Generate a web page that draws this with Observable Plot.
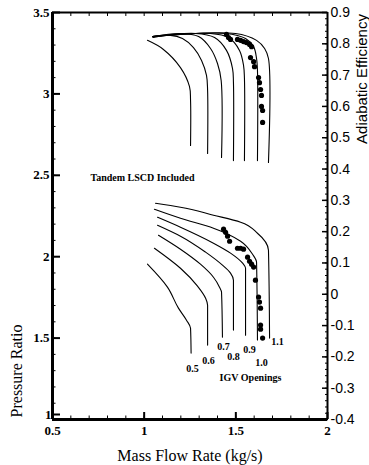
<!DOCTYPE html>
<html>
<head>
<meta charset="utf-8">
<script src="https://cdn.jsdelivr.net/npm/d3@7"></script>
<script src="https://cdn.jsdelivr.net/npm/@observablehq/plot@0.6"></script>
<style>
  html, body { margin: 0; padding: 0; background: #fff; }
</style>
</head>
<body>
<div id="chart"></div>
<script>
// IGV openings of the simulated speed lines
const igvOpenings = [0.5, 0.6, 0.7, 0.8, 0.9, 1.0, 1.1];

// Pressure ratio characteristics: [mass flow (kg/s), pressure ratio]
const pr05 = [[1.018, 1.954], [1.127, 1.813], [1.187, 1.684], [1.231, 1.610], [1.253, 1.561], [1.256, 1.408]];
const pr06 = [[1.056, 2.052], [1.198, 1.929], [1.291, 1.819], [1.335, 1.745], [1.346, 1.702], [1.346, 1.457]];
const pr07 = [[1.078, 2.132], [1.198, 2.046], [1.307, 1.954], [1.378, 1.874], [1.411, 1.813], [1.422, 1.782], [1.427, 1.506]];
const pr08 = [[1.073, 2.193], [1.198, 2.126], [1.335, 2.028], [1.427, 1.948], [1.471, 1.899], [1.487, 1.856], [1.487, 1.549]];
const pr09 = [[1.073, 2.242], [1.198, 2.181], [1.378, 2.083], [1.471, 2.022], [1.537, 1.960], [1.553, 1.929], [1.553, 1.518]];
const pr10 = [[1.056, 2.291], [1.198, 2.236], [1.378, 2.175], [1.526, 2.095], [1.591, 2.015], [1.613, 1.966], [1.618, 1.488]];
const pr11 = [[1.062, 2.328], [1.198, 2.304], [1.378, 2.255], [1.526, 2.212], [1.618, 2.144], [1.678, 2.040], [1.684, 1.500]];

// Adiabatic efficiency characteristics: [mass flow (kg/s), efficiency]
const eff05 = [[1.018, 0.811], [1.105, 0.782], [1.198, 0.724], [1.247, 0.664], [1.253, 0.619], [1.253, 0.475]];
const eff06 = [[1.051, 0.820], [1.144, 0.827], [1.209, 0.817], [1.269, 0.788], [1.313, 0.747], [1.340, 0.699], [1.346, 0.651], [1.346, 0.450]];
const eff07 = [[1.046, 0.823], [1.198, 0.833], [1.297, 0.823], [1.362, 0.785], [1.400, 0.737], [1.420, 0.683], [1.422, 0.437]];
const eff08 = [[1.046, 0.823], [1.280, 0.833], [1.384, 0.820], [1.449, 0.779], [1.482, 0.721], [1.487, 0.676], [1.487, 0.427]];
const eff09 = [[1.046, 0.823], [1.362, 0.833], [1.460, 0.820], [1.520, 0.779], [1.542, 0.731], [1.547, 0.689], [1.547, 0.427]];
const eff10 = [[1.046, 0.823], [1.444, 0.833], [1.553, 0.817], [1.597, 0.791], [1.613, 0.753], [1.618, 0.715], [1.618, 0.427]];
const eff11 = [[1.046, 0.823], [1.498, 0.833], [1.613, 0.811], [1.657, 0.785], [1.678, 0.753], [1.678, 0.421]];

// Measured points (tandem LSCD included)
const measuredPrFlow = [1.433, 1.444, 1.455, 1.466, 1.509, 1.526, 1.542, 1.564, 1.575, 1.586, 1.597, 1.607, 1.624, 1.629, 1.635, 1.635, 1.635, 1.646];
const measuredPr     = [2.169, 2.150, 2.126, 2.095, 2.052, 2.052, 2.046, 1.997, 1.972, 1.954, 1.936, 1.856, 1.752, 1.721, 1.684, 1.580, 1.555, 1.500];
const measuredEffFlow = [1.449, 1.460, 1.471, 1.509, 1.526, 1.542, 1.558, 1.575, 1.586, 1.580, 1.597, 1.602, 1.624, 1.629, 1.635, 1.640, 1.640, 1.646, 1.646];
const measuredEff     = [0.830, 0.820, 0.814, 0.814, 0.811, 0.807, 0.804, 0.798, 0.791, 0.756, 0.743, 0.727, 0.692, 0.676, 0.654, 0.635, 0.600, 0.587, 0.549];

// Opening labels placed under the choke ends of the pressure lines
const openingLabelFlow = [1.264, 1.351, 1.433, 1.487, 1.575, 1.640, 1.727];
const openingLabelPr   = [1.310, 1.359, 1.445, 1.383, 1.426, 1.347, 1.476];
const openingLabelText = ["0.5", "0.6", "0.7", "0.8", "0.9", "1.0", "1.1"];

// Axes
const flowDomain = [0.5, 2];
const prDomain = [1, 3.5];
const effDomain = [-0.4, 0.9];
const flowTicks = [0.5, 1, 1.5, 2];
const prTicks = [1, 1.5, 2, 2.5, 3, 3.5];
const effTicks = [-0.4, -0.3, -0.2, -0.1, 0, 0.1, 0.2, 0.3, 0.4, 0.5, 0.6, 0.7, 0.8, 0.9];

// Efficiency shares the plot area with pressure ratio (right-hand axis)
const effToPr = e => prDomain[0] + (e - effDomain[0]) * (prDomain[1] - prDomain[0]) / (effDomain[1] - effDomain[0]);
const prToEff = p => effDomain[0] + (p - prDomain[0]) * (effDomain[1] - effDomain[0]) / (prDomain[1] - prDomain[0]);

const prCurves = [pr05, pr06, pr07, pr08, pr09, pr10, pr11];
const effCurves = [eff05, eff06, eff07, eff08, eff09, eff10, eff11];

const serif = "'Liberation Serif', 'Times New Roman', serif";
const sans = "'Liberation Sans', Arial, sans-serif";

const minorFlow = d3.range(5, 21).map(d => d / 10);
const minorPr = d3.range(10, 36).map(d => d / 10);
const minorEff = d3.range(-20, 46).map(d => d / 50);

const effFormat = p => {
  const e = Math.round(prToEff(p) * 10) / 10;
  return e === 0 ? "0" : e.toFixed(1);
};

const chart = Plot.plot({
  width: 369,
  height: 465,
  marginLeft: 52,
  marginRight: 42,
  marginTop: 12,
  marginBottom: 46,
  x: {domain: flowDomain},
  y: {domain: prDomain},
  style: {fontFamily: serif, fontSize: "13px", color: "black", background: "white", overflow: "visible"},
  marks: [
    // left axis: pressure ratio (the lowest label sits tight in the corner)
    Plot.axisY(minorPr, {anchor: "left", tickSize: -3.5, tickFormat: () => "", label: null}),
    Plot.axisY(prTicks.slice(1), {anchor: "left", tickSize: -8, tickPadding: 11, strokeWidth: 2, tickFormat: d => String(d),
      fontWeight: "bold", fontSize: 13, label: null}),
    Plot.axisY(prTicks.slice(0, 1), {anchor: "left", tickSize: -8, tickPadding: 9, strokeWidth: 2, tickFormat: d => String(d),
      fontWeight: "bold", fontSize: 13, dy: -5, label: null}),
    // right axis: adiabatic efficiency
    Plot.axisY(minorEff.map(effToPr), {anchor: "right", tickSize: -3, tickFormat: () => "", label: null}),
    Plot.axisY(effTicks.map(effToPr), {anchor: "right", tickSize: -6, tickPadding: 9, strokeWidth: 1.5, tickFormat: effFormat,
      fontFamily: sans, fontSize: 14, label: null}),
    // bottom axis: mass flow
    Plot.axisX(minorFlow, {anchor: "bottom", tickSize: -3.5, tickFormat: () => "", label: null}),
    Plot.axisX(flowTicks, {anchor: "bottom", tickSize: -7, tickPadding: 13, strokeWidth: 2, tickFormat: d => String(d),
      fontWeight: "bold", fontSize: 13, label: null}),
    // top edge ticks
    Plot.axisX(minorFlow, {anchor: "top", tickSize: -3, tickFormat: () => "", label: null}),
    // frame
    Plot.ruleX([flowDomain[0]], {strokeWidth: 3}),
    Plot.ruleY([prDomain[0]], {strokeWidth: 3}),
    Plot.ruleX([flowDomain[1]], {strokeWidth: 2}),
    Plot.ruleY([prDomain[1]], {strokeWidth: 2}),

    // simulated pressure ratio lines
    ...prCurves.map(c => Plot.line(c, {x: d => d[0], y: d => d[1], curve: "monotone-y", strokeWidth: 1.1})),
    // simulated efficiency lines
    ...effCurves.map(c => Plot.line(c, {x: d => d[0], y: d => effToPr(d[1]), curve: "catmull-rom", strokeWidth: 1.1})),

    // measurements
    Plot.dot(measuredPr, {x: (d, i) => measuredPrFlow[i], y: d => d, r: 2.6, fill: "black", stroke: null}),
    Plot.dot(measuredEff, {x: (d, i) => measuredEffFlow[i], y: d => effToPr(d), r: 2.6, fill: "black", stroke: null}),

    // annotations
    Plot.text(openingLabelText, {x: (d, i) => openingLabelFlow[i], y: (d, i) => openingLabelPr[i], text: d => d,
      fontSize: 10, fontWeight: "bold"}),
    Plot.text(["IGV Openings"], {x: [1.580], y: [1.255], text: d => d, fontSize: 10, fontWeight: "bold"}),
    Plot.text(["Tandem LSCD Included"], {x: [0.707], y: [2.482], text: d => d, textAnchor: "start", fontSize: 10, fontWeight: "bold"}),

    // axis titles
    Plot.text(["Mass Flow Rate (kg/s)"], {frameAnchor: "bottom", textAnchor: "middle", lineAnchor: "middle", dy: 36,
      text: d => d, fontSize: 16}),
    Plot.text(["Pressure Ratio"], {frameAnchor: "left", textAnchor: "middle", lineAnchor: "middle", rotate: -90,
      dx: -36, dy: 155, text: d => d, fontSize: 16}),
    Plot.text(["Adiabatic Efficiency"], {frameAnchor: "right", textAnchor: "middle", lineAnchor: "middle", rotate: -90,
      dx: 35, dy: -137, text: d => d, fontSize: 15, fontFamily: sans})
  ]
});

document.getElementById("chart").appendChild(chart);
</script>
</body>
</html>
